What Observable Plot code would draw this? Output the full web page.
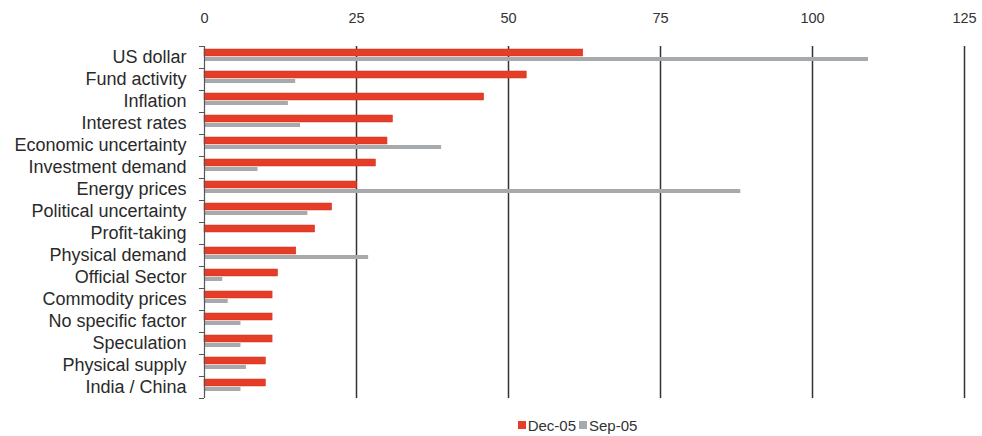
<!DOCTYPE html>
<html>
<head>
<meta charset="utf-8">
<script src="https://cdn.jsdelivr.net/npm/d3@7"></script>
<script src="https://cdn.jsdelivr.net/npm/@observablehq/plot@0.6"></script>
<style>
  html, body { margin: 0; padding: 0; background: #fff; }
  body { width: 982px; height: 436px; overflow: hidden; font-family: "Liberation Sans", Arial, sans-serif; }
  #legend { display: flex; justify-content: center; align-items: center; font-size: 15px; color: #333; height: 22px; margin-top: 4px; margin-left: 176px; }
  #legend .sw { display: inline-block; width: 8px; height: 8px; margin-right: 2px; }
  #legend span.item { display: inline-flex; align-items: center; margin-right: 3px; }
</style>
</head>
<body>
<div id="chart"></div>
<div id="legend"></div>
<script>
const categories = ["US dollar","Fund activity","Inflation","Interest rates","Economic uncertainty","Investment demand","Energy prices","Political uncertainty","Profit-taking","Physical demand","Official Sector","Commodity prices","No specific factor","Speculation","Physical supply","India / China"];
const dec05 = [62.3, 53, 46, 31, 30.1, 28.2, 25.1, 21, 18.2, 15.1, 12.1, 11.2, 11.2, 11.2, 10.1, 10.1];
const sep05 = [109.2, 15, 13.8, 15.8, 39, 8.8, 88.2, 17, 0, 27, 3, 3.9, 6, 6, 6.9, 6];
const xTicks = [0, 25, 50, 75, 100, 125];
const seriesNames = ["Dec-05", "Sep-05"];
const seriesColors = ["#e53d27", "#a6aaad"];

const decData = categories.map((c, i) => ({category: c, value: dec05[i]}));
const sepData = categories.map((c, i) => ({category: c, value: sep05[i]}));

const chart = Plot.plot({
  width: 982,
  height: 410,
  marginLeft: 204,
  marginRight: 18,
  marginTop: 46,
  marginBottom: 12,
  style: {fontFamily: "Liberation Sans, Arial, sans-serif", background: "#fff"},
  x: {domain: [0, 125], ticks: xTicks},
  y: {domain: categories, paddingInner: 0, paddingOuter: 0},
  marks: [
    Plot.ruleX(xTicks.slice(1), {stroke: "#333", strokeWidth: 1.5}),
    Plot.barX(decData, {y: "category", x: "value", fill: seriesColors[0], stroke: "#d23420", strokeWidth: 0.5, insetTop: 3, insetBottom: 12}),
    Plot.barX(sepData, {y: "category", x: "value", fill: seriesColors[1], insetTop: 11, insetBottom: 7}),
    Plot.ruleX([0], {stroke: "#555", strokeWidth: 1.2}),
    Plot.axisX({anchor: "top", ticks: xTicks, tickSize: 0, tickPadding: 24, fontSize: 14.5, color: "#333", label: null}),
    Plot.axisY({tickSize: 0, tickPadding: 18, fontSize: 18, color: "#2a2a2a", label: null, style: {letterSpacing: "0.2px"}}),
    Plot.axisY({tickSize: 5, tickFormat: () => "", dy: -11, stroke: "#555", label: null}),
    Plot.axisY({ticks: [categories[categories.length - 1]], tickSize: 5, tickFormat: () => "", dy: 11, stroke: "#555", label: null})
  ]
});
document.getElementById("chart").appendChild(chart);

const legend = document.getElementById("legend");
seriesNames.forEach((n, i) => {
  const item = document.createElement("span");
  item.className = "item";
  const sw = document.createElement("span");
  sw.className = "sw";
  sw.style.background = seriesColors[i];
  item.appendChild(sw);
  item.appendChild(document.createTextNode(n));
  legend.appendChild(item);
});
</script>
</body>
</html>
